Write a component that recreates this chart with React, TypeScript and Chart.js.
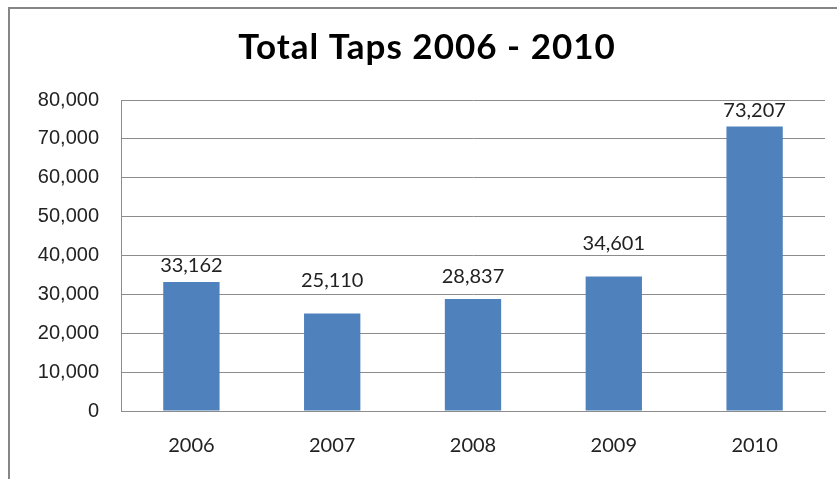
import React, { useEffect, useRef } from "react";
import { Chart, registerables } from "chart.js";

Chart.register(...registerables);

const TITLE = "Total Taps 2006 - 2010";
const categories = ["2006", "2007", "2008", "2009", "2010"];
const taps = [33162, 25110, 28837, 34601, 73207];
const yTicks = [0, 10000, 20000, 30000, 40000, 50000, 60000, 70000, 80000];

// layout config (gap between data label baseline and bar top)
const labelGap = [10, 26, 16, 26, 9];

const fmt = (v: number) => v.toLocaleString("en-US");

export default function App() {
  const ref = useRef<HTMLCanvasElement | null>(null);

  useEffect(() => {
    document.body.style.margin = "0";
    const canvas = ref.current!;
    const decor = {
      id: "decor",
      beforeDraw(chart: any) {
        const ctx = chart.ctx;
        ctx.save();
        ctx.fillStyle = "#ffffff";
        ctx.fillRect(0, 0, chart.width, chart.height);
        ctx.strokeStyle = "#868686";
        ctx.lineWidth = 2;
        ctx.strokeRect(9, 8, 1000, 1000);
        ctx.restore();
      },
      afterDraw(chart: any) {
        const ctx = chart.ctx;
        ctx.save();
        ctx.fillStyle = "#000000";
        ctx.font = "bold 35px Lato";
        try {
          (ctx as any).letterSpacing = "1px";
        } catch (e) {}
        ctx.textAlign = "center";
        ctx.textBaseline = "alphabetic";
        ctx.fillText(TITLE, 427, 59);
        try {
          (ctx as any).letterSpacing = "0px";
        } catch (e) {}
        const meta = chart.getDatasetMeta(0);
        ctx.font = "20px Lato";
        ctx.fillStyle = "#222222";
        meta.data.forEach((bar: any, i: number) => {
          ctx.fillText(fmt(taps[i]), bar.x, bar.y - labelGap[i]);
        });
        ctx.restore();
      },
    };

    const chart = new Chart(canvas, {
      type: "bar",
      data: {
        labels: categories,
        datasets: [
          {
            data: taps,
            backgroundColor: "#4F81BD",
            barPercentage: 0.4,
            categoryPercentage: 1,
          },
        ],
      },
      options: {
        responsive: false,
        animation: false,
        layout: { padding: { left: 0, right: 12, top: 100, bottom: 0 } },
        plugins: {
          legend: { display: false },
          title: { display: false },
          tooltip: { enabled: false },
        },
        scales: {
          x: {
            grid: { display: false },
            border: { display: true, color: "#8c8c8c", width: 1 },
            ticks: {
              padding: 15,
              color: "#222222",
              font: { family: "Lato", size: 20 },
            },
            afterFit(scale: any) {
              scale.height = 68;
            },
          },
          y: {
            min: 0,
            max: 80000,
            afterBuildTicks(scale: any) {
              scale.ticks = yTicks.map((v) => ({ value: v }));
            },
            grid: { color: "#8c8c8c", lineWidth: 1, drawTicks: false },
            border: { display: true, color: "#8c8c8c", width: 1 },
            ticks: {
              padding: 22,
              color: "#222222",
              font: { family: "Liberation Sans", size: 20 },
              callback: (v: any) => fmt(Number(v)),
            },
            afterFit(scale: any) {
              scale.width = 121;
            },
          },
        },
      },
      plugins: [decor],
    });
    return () => chart.destroy();
  }, []);

  return (
    <div style={{ position: "fixed", left: 0, top: 0, width: 837, height: 479 }}>
      <canvas ref={ref} width={837} height={479} style={{ display: "block" }} />
    </div>
  );
}
